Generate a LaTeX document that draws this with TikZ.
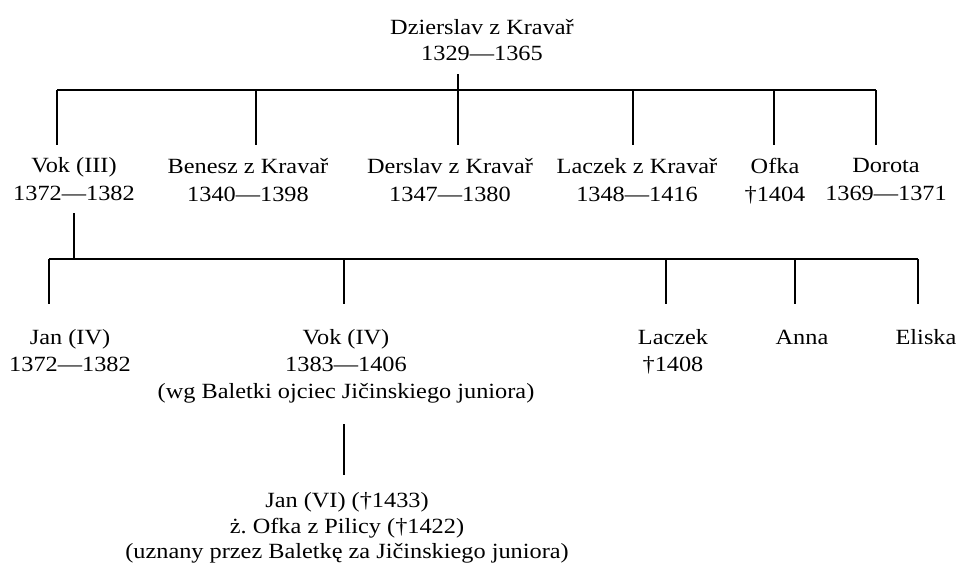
\documentclass[tikz,border=0pt]{standalone}
\usepackage{fontspec}
\setmainfont{Liberation Serif}[FakeStretch=1.12]
\begin{document}
\begin{tikzpicture}[x=1pt,y=-1pt,line width=1.8pt,
  person/.style={anchor=north,align=center,inner sep=0pt,font=\fontsize{21.7}{28}\selectfont}]
\useasboundingbox (0,0) rectangle (960,574);
% generation 0
\node[person,font=\fontsize{21.7}{26}\selectfont] (dz) at (482,18) {Dzierslav z Kravař\\1329—1365};
% generation 1
\node[person] (vok3)    at (74,157)  {Vok (III)\\1372—1382};
\node[person] (benesz)  at (248,157) {Benesz z Kravař\\1340—1398};
\node[person] (derslav) at (450,157) {Derslav z Kravař\\1347—1380};
\node[person] (laczek1) at (637,157) {Laczek z Kravař\\1348—1416};
\node[person] (ofka)    at (775,157) {Ofka\\†1404};
\node[person] (dorota)  at (886,157) {Dorota\\1369—1371};
% generation 2
\tikzset{gen2/.style={person,font=\fontsize{21.7}{27}\selectfont}}
\node[gen2] (jan4)    at (70,329)  {Jan (IV)\\1372—1382};
\node[gen2] (vok4)    at (346,329) {Vok (IV)\\1383—1406\\(wg Baletki ojciec Jičinskiego juniora)};
\node[gen2] (laczek2) at (673,329) {Laczek\\†1408};
\node[gen2] (anna)    at (802,329) {Anna};
\node[gen2] (eliska)  at (926,329) {Eliska};
% generation 3
\node[person,font=\fontsize{21.7}{25.5}\selectfont] (jan6) at (347,492) {Jan (VI) (†1433)\\ż.\ Ofka z Pilicy (†1422)\\(uznany przez Baletkę za Jičinskiego juniora)};
% connectors
\coordinate (hub1) at (458,90);
\coordinate (bus1L) at (57,90);
\coordinate (bus1R) at (876,90);
\draw (bus1L) -- (bus1R);
\draw[shorten <=13pt,shorten >=12pt] (dz.south -| hub1) -- (hub1 |- derslav.north);
\foreach \x/\n in {57/vok3,256/benesz,633/laczek1,774/ofka,876/dorota}
  \draw[shorten >=12pt] (\x,90) -- (\x,90 |- \n.north);
\coordinate (hub2) at (74,259);
\coordinate (bus2L) at (49,259);
\coordinate (bus2R) at (918,259);
\draw (bus2L) -- (bus2R);
\draw[shorten <=11pt] (vok3.south -| hub2) -- (hub2);
\foreach \x/\n in {49/jan4,344/vok4,666/laczek2,795/anna,918/eliska}
  \draw[shorten >=25pt] (\x,259) -- (\x,259 |- \n.north);
\coordinate (hub3) at (344,424);
\draw[shorten >=17pt] (hub3) -- (hub3 |- jan6.north);
\end{tikzpicture}
\end{document}
